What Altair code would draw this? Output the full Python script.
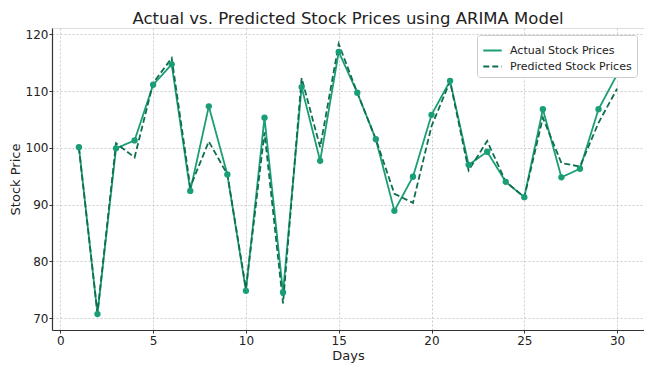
import altair as alt
import pandas as pd

days = list(range(1, 31))
actual = [100.1, 70.7, 99.9, 101.3, 111.1, 114.7, 92.4, 107.3, 95.3, 74.8,
          105.3, 74.5, 110.7, 97.7, 116.9, 109.7, 101.5, 88.9, 94.9, 105.8,
          111.8, 97.0, 99.3, 94.0, 91.3, 106.8, 94.8, 96.3, 106.8, 112.9]
predicted = [100.0, 70.9, 100.8, 98.3, 111.4, 115.8, 93.1, 101.1, 95.3, 75.2,
             102.7, 72.6, 112.3, 100.1, 118.3, 109.7, 101.5, 91.9, 90.3, 103.8,
             111.7, 96.0, 101.2, 94.0, 91.3, 105.3, 97.3, 96.7, 104.4, 110.4]
series_names = ["Actual Stock Prices", "Predicted Stock Prices"]
colors = ["#1a9e77", "#0f6e50"]

df = pd.DataFrame({
    "Days": days * 2,
    "Price": actual + predicted,
    "Series": [series_names[0]] * len(days) + [series_names[1]] * len(days),
})
df_actual = df[df["Series"] == series_names[0]]

font = "DejaVu Sans"
xs = alt.Scale(domain=[-0.45, 31.45], nice=False, zero=False)
ys = alt.Scale(domain=[67.9, 121.1], nice=False, zero=False)

common = dict(grid=True, gridDash=[2, 2], gridColor="#cccccc",
              domainColor="#333333", domainWidth=1.2, tickColor="#333333", tickSize=3,
              labelFontSize=12, titleFontSize=13, labelColor="#222222",
              titleColor="#222222", labelFont=font, titleFont=font,
              titleFontWeight="normal")
x_axis = alt.Axis(values=[0, 5, 10, 15, 20, 25, 30], title="Days", format="d",
                  labelPadding=2, titlePadding=3, **common)
y_axis = alt.Axis(values=[70, 80, 90, 100, 110, 120], title="Stock Price",
                  labelPadding=1, titlePadding=3, **common)

color = alt.Color("Series:N",
                  scale=alt.Scale(domain=series_names, range=colors),
                  legend=alt.Legend(title=None, orient="top-right", symbolType="stroke",
                                    symbolStrokeWidth=1.8, symbolSize=340,
                                    labelFont=font, labelFontSize=11, labelColor="#222222",
                                    labelOffset=7,
                                    fillColor="white", strokeColor="#cccccc",
                                    cornerRadius=3, padding=5, offset=7, rowPadding=0))
dash = alt.StrokeDash("Series:N",
                      scale=alt.Scale(domain=series_names, range=[[1, 0], [6, 3]]),
                      legend=None)

lines = alt.Chart(df).mark_line(strokeWidth=1.8).encode(
    x=alt.X("Days:Q", scale=xs, axis=x_axis),
    y=alt.Y("Price:Q", scale=ys, axis=y_axis),
    color=color,
    strokeDash=dash,
)
points = alt.Chart(df_actual).mark_point(filled=True, size=40, opacity=1, color=colors[0]).encode(
    x=alt.X("Days:Q", scale=xs),
    y=alt.Y("Price:Q", scale=ys),
)

chart = alt.layer(lines, points).properties(
    width=592, height=302,
    autosize=alt.AutoSizeParams(type="none"),
    padding={"left": 44, "top": 20, "right": 0, "bottom": 34},
    title=alt.TitleParams("Actual vs. Predicted Stock Prices using ARIMA Model",
                          font=font, fontSize=16.5, fontWeight="normal",
                          color="#222222", offset=1, anchor="middle"),
).configure_view(stroke=None).configure(background="white")

chart.save("out.html", embed_options={"renderer": "svg", "actions": False})
